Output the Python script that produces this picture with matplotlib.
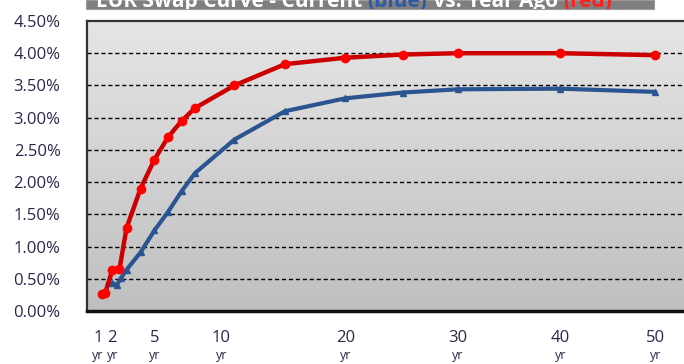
import numpy as np
import matplotlib
matplotlib.use("Agg")
import matplotlib.pyplot as plt
from matplotlib.patches import Rectangle

# ---- data (tenor in years, swap rate in %) ----
red_tenor = [1.25, 1.5, 2.0, 2.5, 3, 4, 5, 6, 7, 8, 11, 15, 20, 25, 30, 40, 50]
red_rate = [0.26, 0.28, 0.64, 0.65, 1.29, 1.90, 2.35, 2.70, 2.95, 3.15, 3.50,
            3.83, 3.93, 3.98, 4.00, 4.00, 3.97]
blue_tenor = [2.0, 2.3, 2.6, 3, 4, 5, 6, 7, 8, 11, 15, 20, 25, 30, 40, 50]
blue_rate = [0.43, 0.40, 0.51, 0.64, 0.91, 1.25, 1.54, 1.86, 2.14, 2.66,
             3.10, 3.30, 3.39, 3.44, 3.45, 3.40]
x_ticks = [1, 2, 5, 10, 20, 30, 40, 50]
y_ticks = [0.0, 0.5, 1.0, 1.5, 2.0, 2.5, 3.0, 3.5, 4.0, 4.5]
title_parts = [("EUR Swap Curve - Current ", "white"), ("(blue)", "#2a5aa8"),
               (" vs. Year Ago ", "white"), ("(red)", "#ff2020")]

W, H = 684, 364
fig = plt.figure(figsize=(W / 100, H / 100), dpi=100)
fig.patch.set_facecolor("white")

ax_left, ax_right, ax_bottom, ax_top = 87, 700, 311, 21
ax = fig.add_axes([ax_left / W, (H - ax_bottom) / H,
                   (ax_right - ax_left) / W, (ax_bottom - ax_top) / H])

C = 83.0
ax.set_xscale("function", functions=(lambda x: np.log(np.maximum(x + C, 1e-9)),
                                      lambda y: np.exp(y) - C))
ax.set_xlim(0.24, 55.0)
ax.set_ylim(0, 4.5)

# gradient background
grad = np.linspace(0, 1, 256).reshape(-1, 1)
top_c = np.array([0.90, 0.90, 0.90])
bot_c = np.array([0.75, 0.75, 0.75])
img = top_c * (1 - grad[..., None]) + bot_c * grad[..., None]
img = img.reshape(256, 1, 3)
ax.imshow(img, aspect="auto", extent=[0, 1, 0, 1], transform=ax.transAxes,
          zorder=0, interpolation="bilinear")

# gridlines
for yv in y_ticks[1:-1]:
    ax.axhline(yv, color="black", lw=1.0, ls=(0, (3, 2)), zorder=1)

ax.plot(blue_tenor, blue_rate, color="#2b5590", lw=3.0, marker="^", ms=5,
        mfc="#2b5590", mec="#2b5590", zorder=3, solid_capstyle="round")
ax.plot(red_tenor, red_rate, color="#cc0000", lw=3.2, marker="o", ms=6,
        mfc="#ff0000", mec="#ff0000", zorder=4, solid_capstyle="round")

for s in ["left", "top", "right"]:
    ax.spines[s].set_color("#333333")
    ax.spines[s].set_linewidth(1.6)
ax.spines["bottom"].set_color("#111111")
ax.spines["bottom"].set_linewidth(2.5)

ax.set_yticks(y_ticks)
ax.set_yticklabels([f"{v:.2f}%" for v in y_ticks], fontsize=12,
                   family="Open Sans", color="#28284a")
ax.tick_params(axis="y", length=0, pad=19)
ax.set_xticks([])
ax.tick_params(axis="x", length=0)

# x labels (two lines)
for t in x_ticks:
    ax.annotate(str(t), xy=(t, 0), xycoords=("data", "axes fraction"),
                xytext=(0, -27), textcoords="offset pixels", ha="center",
                va="center", fontsize=12, family="Open Sans", color="#28284a",
                annotation_clip=False)
    ax.annotate("yr", xy=(t, 0), xycoords=("data", "axes fraction"),
                xytext=(0, -45), textcoords="offset pixels", ha="center",
                va="center", fontsize=9, family="Open Sans", color="#28284a",
                annotation_clip=False)

# title banner (cut off at top)
banner = Rectangle((86 / W, (H - 9) / H), (654 - 86) / W, 9 / H,
                   transform=fig.transFigure, facecolor="#7f7f7f",
                   edgecolor="#9a9a9a", lw=0.8, zorder=5)
fig.patches.append(banner)

fig.canvas.draw()
renderer = fig.canvas.get_renderer()
xpos = 96
for txt, col in title_parts:
    t = fig.text(xpos / W, (H - 7) / H, txt, color=col, fontsize=15,
                 family="Open Sans", weight="bold", ha="left", va="baseline",
                 zorder=6)
    t.set_clip_path(banner)
    bb = t.get_window_extent(renderer)
    xpos += bb.width

fig.savefig("out.png", dpi=100)
